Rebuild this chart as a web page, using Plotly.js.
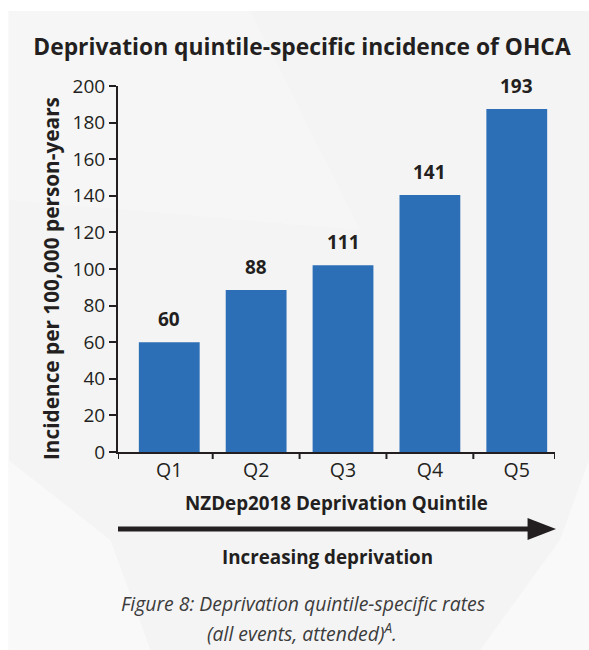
<!DOCTYPE html>
<html>
<head>
<meta charset="utf-8">
<script src="https://cdn.plot.ly/plotly-3.0.1.min.js"></script>
<style>html,body{margin:0;padding:0;background:#fff;}#chart{width:589px;height:650px;} text{font-variant-ligatures:none;}</style>
</head>
<body>
<div id="chart"></div>
<script>
// Data
const categories = ["Q1", "Q2", "Q3", "Q4", "Q5"];
const barHeights = [60, 88.5, 102, 140.5, 187.5];   // drawn bar heights
const barLabels = ["60", "88", "111", "141", "193"]; // printed value labels
const yTickVals = [0, 20, 40, 60, 80, 100, 120, 140, 160, 180, 200];

const ink = "#231f20";
const barColor = "#2d6fb7";
const FONT = "'Open Sans', 'Noto Sans', sans-serif";

// plot area in pixels
const W = 589, H = 650;
const L = 117.5, R = 555, T = 86, B = 452;
const px = x => (x - L) / (R - L);
const py = y => (B - y) / (B - T);
const xRange = [-0.59, 4.44];

const trace = {
  type: "bar",
  x: categories,
  y: barHeights,
  marker: {color: barColor, line: {width: 0}},
  hoverinfo: "x+y",
  showlegend: false
};

const labelAnnotations = categories.map((c, i) => ({
  x: c, y: barHeights[i], xref: "x", yref: "y",
  text: "<b>" + barLabels[i] + "</b>",
  showarrow: false, yanchor: "bottom", yshift: 8,
  font: {family: FONT, size: 19, color: ink}
}));

// x tick marks at category boundaries and at both axis ends
const xTickPos = [xRange[0]].concat(categories.slice(1).map((c, i) => i + 0.5), [xRange[1]]);
const xTickShapes = xTickPos.map(v => ({
  type: "line", xref: "x", yref: "paper",
  x0: v, x1: v, y0: 0, y1: -7 / (B - T),
  line: {color: ink, width: 2}
}));

const layout = {
  width: W, height: H,
  margin: {l: L, r: W - R, t: T, b: H - B, pad: 0},
  paper_bgcolor: "#ffffff",
  plot_bgcolor: "rgba(0,0,0,0)",
  bargap: 0.3,
  title: {
    text: "<b>Deprivation quintile-specific incidence of OHCA</b>",
    font: {family: FONT, size: 22.8, color: ink},
    x: 302 / W, xref: "container", xanchor: "center",
    y: 1 - 47 / H, yref: "container", yanchor: "middle"
  },
  xaxis: {
    type: "category",
    range: xRange,
    ticks: "",
    showline: true, linecolor: ink, linewidth: 2,
    showgrid: false, zeroline: false,
    tickfont: {family: FONT, size: 19.5, color: ink},
    title: {text: "<b>NZDep2018 Deprivation Quintile</b>", standoff: 14,
            font: {family: FONT, size: 18.8, color: ink}},
    automargin: false,
    fixedrange: true
  },
  yaxis: {
    range: [0, 200],
    tickvals: yTickVals,
    ticks: "outside", ticklen: 7, tickwidth: 2, tickcolor: ink,
    showline: true, linecolor: ink, linewidth: 2,
    showgrid: false, zeroline: false,
    tickfont: {family: FONT, size: 19, color: ink},
    title: {text: ""},
    automargin: false,
    fixedrange: true
  },
  shapes: [
    // background panel
    {type: "rect", xref: "paper", yref: "paper", layer: "below",
     x0: px(8), x1: px(589), y0: py(11), y1: py(650),
     fillcolor: "#f4f4f4", line: {width: 0}},
    // subtle lighter facets
    {type: "path", xref: "paper", yref: "paper", layer: "below",
     path: `M ${px(8)},${py(200)} L ${px(360)},${py(230)} L ${px(250)},${py(11)} L ${px(8)},${py(11)} Z`,
     fillcolor: "#f6f6f6", line: {width: 0}},
    {type: "path", xref: "paper", yref: "paper", layer: "below",
     path: `M ${px(8)},${py(460)} L ${px(110)},${py(540)} L ${px(150)},${py(650)} L ${px(8)},${py(650)} Z`,
     fillcolor: "#f9f9f9", line: {width: 0}},
    {type: "path", xref: "paper", yref: "paper", layer: "below",
     path: `M ${px(589)},${py(460)} L ${px(560)},${py(540)} L ${px(480)},${py(650)} L ${px(589)},${py(650)} Z`,
     fillcolor: "#f9f9f9", line: {width: 0}},
    // arrow shaft
    {type: "line", xref: "paper", yref: "paper",
     x0: px(117.5), x1: px(530), y0: py(529), y1: py(529),
     line: {color: ink, width: 5}},
    // arrow head
    {type: "path", xref: "paper", yref: "paper",
     path: `M ${px(527.5)},${py(518)} L ${px(556)},${py(529)} L ${px(527.5)},${py(540)} Z`,
     fillcolor: ink, line: {color: ink, width: 0}}
  ].concat(xTickShapes),
  annotations: labelAnnotations.concat([
    {xref: "paper", yref: "paper", x: px(50), y: py(278.5),
     text: "<b>Incidence per 100,000 person-years</b>", showarrow: false,
     textangle: -90, xanchor: "center", yanchor: "middle",
     font: {family: FONT, size: 20.8, color: ink}},
    {xref: "paper", yref: "paper", x: px(327), y: py(557),
     text: "<b>Increasing deprivation</b>", showarrow: false,
     xanchor: "center", yanchor: "middle",
     font: {family: FONT, size: 18.8, color: ink}},
    {xref: "paper", yref: "paper", x: px(303), y: py(603),
     text: "<i>Figure 8: Deprivation quintile-specific rates</i>", showarrow: false,
     xanchor: "center", yanchor: "middle",
     font: {family: FONT, size: 19.4, color: "#3c3c3c"}},
    {xref: "paper", yref: "paper", x: px(302), y: py(632),
     text: "<i>(all events, attended)<sup>A</sup>.</i>", showarrow: false,
     xanchor: "center", yanchor: "middle",
     font: {family: FONT, size: 19.4, color: "#3c3c3c"}}
  ])
};

Plotly.newPlot("chart", [trace], layout, {displayModeBar: false, staticPlot: true});
</script>
</body>
</html>
